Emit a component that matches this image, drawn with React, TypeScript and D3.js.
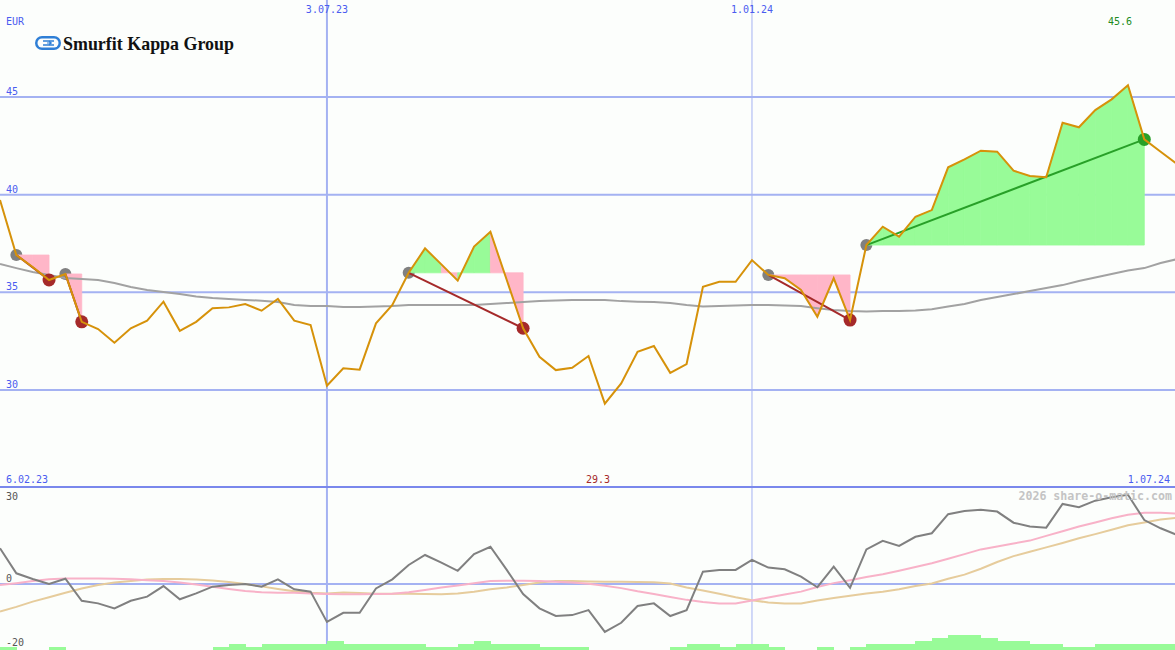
import React from 'react';
import * as d3 from 'd3';

const W = 1175;
const H = 650;

// weekly closing prices (EUR), index 0..72
const priceValues = [
  39.73, 36.91, 36.3, 35.63, 35.94, 33.49, 33.12, 32.42, 33.16, 33.55,
  34.52, 33.03, 33.49, 34.18, 34.23, 34.4, 34.06, 34.66, 33.55, 33.33,
  30.22, 31.11, 31.04, 33.41, 34.35, 36.0, 37.25, 36.43, 35.6, 37.34,
  38.1, 35.63, 33.16, 31.7, 31.02, 31.14, 31.74, 29.3, 30.34, 31.96,
  32.25, 30.88, 31.33, 35.29, 35.54, 35.54, 36.65, 35.89, 35.72, 35.12,
  33.75, 35.72, 33.58, 37.42, 38.36, 37.85, 38.87, 39.21, 41.4, 41.81,
  42.25, 42.2, 41.23, 40.96, 40.89, 43.68, 43.45, 44.33, 44.88, 45.6,
  42.83, 42.2, 41.57,
];

// long moving average of price
const priceMA = [
  36.45, 36.24, 36.04, 35.89, 35.73, 35.68, 35.63, 35.48, 35.27, 35.12,
  35.02, 34.91, 34.79, 34.71, 34.66, 34.61, 34.57, 34.5, 34.35, 34.3,
  34.3, 34.25, 34.25, 34.27, 34.3, 34.35, 34.35, 34.35, 34.35, 34.35,
  34.4, 34.45, 34.5, 34.55, 34.58, 34.61, 34.61, 34.61, 34.55, 34.52,
  34.5, 34.45, 34.35, 34.27, 34.3, 34.32, 34.35, 34.35, 34.32, 34.3,
  34.19, 34.09, 34.04, 34.02, 34.04, 34.04, 34.07, 34.14, 34.27, 34.4,
  34.61, 34.76, 34.91, 35.07, 35.22, 35.37, 35.58, 35.76, 35.94, 36.12,
  36.24, 36.5, 36.7,
];

// lower panel oscillator
const oscValues = [
  12.2, 3.65, 1.7, 0, 1.8, -5.7, -6.6, -8.3, -5.7, -4.3,
  -0.7, -5.2, -3.2, -0.9, -0.3, 0, -0.9, 1.6, -1.8, -2.6,
  -12.9, -9.8, -9.8, -1.5, 1.6, 6.5, 9.9, 7.3, 4.5, 10.2,
  12.7, 4.8, -3.4, -8.3, -10.9, -10.6, -8.9, -16.3, -13.2, -7.5,
  -6.6, -10.9, -8.9, 4.2, 4.8, 4.8, 8.2, 5.6, 5.0, 2.5,
  -1.1, 5.9, -1.3, 11.8, 14.7, 13.0, 16.1, 17.3, 23.8, 24.9,
  25.3, 24.7, 20.9, 19.6, 19.2, 27.3, 26.2, 28.4, 29.6, 30.4,
  21.8, 19.0, 16.7,
];

const oscFast = [
  -0.3, 0.3, 1.0, 1.6, 1.9, 1.9, 1.9, 1.8, 1.6, 1.3,
  1.0, 0.5, -0.2, -0.9, -1.7, -2.4, -2.8, -3.0, -3.0, -3.2,
  -3.4, -3.5, -3.5, -3.4, -3.3, -2.8, -2.0, -1.2, -0.5, 0.3,
  1.0, 1.1, 1.1, 1.0, 0.8, 0.5, 0.1, -0.6, -1.4, -2.5,
  -3.4, -4.4, -5.4, -6.1, -6.6, -6.6, -5.6, -4.6, -3.6, -2.6,
  -1.0, 0.3, 1.3, 2.4, 3.3, 4.5, 5.8, 7.1, 8.6, 10.2,
  11.8, 12.8, 13.8, 14.8, 16.4, 18.0, 19.6, 21.0, 22.4, 23.6,
  24.3, 24.3, 24.0,
];

const oscSlow = [
  -9.4, -7.8, -6.0, -4.5, -3.0, -1.5, -0.3, 0.5, 1.0, 1.5,
  1.7, 1.7, 1.5, 1.2, 0.7, 0.0, -0.8, -1.7, -2.5, -3.0,
  -3.2, -2.9, -3.1, -3.3, -3.3, -3.3, -3.4, -3.5, -3.2, -2.6,
  -1.8, -1.2, -0.3, 0.5, 1.0, 1.0, 0.9, 0.8, 0.8, 0.7,
  0.6, 0.2, -1.2, -2.2, -3.3, -4.5, -5.5, -6.3, -6.6, -6.6,
  -5.6, -4.8, -4.0, -3.2, -2.6, -1.8, -0.7, 0.2, 1.8, 3.2,
  5.2, 7.5, 9.5, 11.0, 12.5, 14.0, 15.6, 17.0, 18.5, 20.0,
  21.0, 22.0, 22.6,
];

const volumeValues = [
  1, 0, 0, 1, 0, 0, 0, 0, 0, 0,
  0, 0, 0, 1, 2, 1, 2, 2, 2, 2,
  3, 2, 2, 2, 2, 2, 1, 1, 2, 3,
  2, 2, 2, 1, 1, 1, 0, 0, 0, 0,
  0, 1, 2, 2, 1, 2, 2, 1, 0, 0,
  1, 0, 1, 2, 2, 2, 3, 4, 5, 5,
  4, 3, 3, 2, 2, 1, 1, 2, 2, 2,
  2, 2, 0,
];

const priceTicks = [45, 40, 35, 30];
const oscTicks = [30, 0, -20];
const dateMarks = [
  { i: 20, label: '3.07.23', w: 2 },
  { i: 46, label: '1.01.24', w: 1 },
];
const rangeStart = '6.02.23';
const rangeEnd = '1.07.24';
const trades = [
  { entry: 1, exit: 3 },
  { entry: 4, exit: 5 },
  { entry: 25, exit: 32 },
  { entry: 47, exit: 52 },
  { entry: 53, exit: 70 },
];

const GRID = '#a4b2f2';
const BLUE_TXT = '#4a5cf0';
const MONO = '"DejaVu Sans Mono", monospace';

export default function App() {
  const x = d3.scaleLinear().domain([0, 72]).range([0, 1177]);
  const yP = d3.scaleLinear().domain([30, 45]).range([390, 97]);
  const yO = d3.scaleLinear().domain([-20, 30]).range([642.7, 496]);

  const priceLine = d3.line<number>().x((_, i) => x(i)).y((d) => yP(d));
  const oscLine = d3.line<number>().x((_, i) => x(i)).y((d) => yO(d));

  const maxI = d3.maxIndex(priceValues);
  const minI = d3.minIndex(priceValues);

  const fills: { d: string; c: string }[] = [];
  trades.forEach((t) => {
    const lvl = priceValues[t.entry];
    for (let k = t.entry; k < t.exit; k++) {
      const p = d3.path();
      p.moveTo(x(k), yP(lvl));
      p.lineTo(x(k), yP(priceValues[k]));
      p.lineTo(x(k + 1), yP(priceValues[k + 1]));
      p.lineTo(x(k + 1), yP(lvl));
      p.closePath();
      fills.push({ d: p.toString(), c: priceValues[k + 1] >= lvl ? '#98fb98' : '#ffb6c8' });
    }
  });

  return (
    <>
      <style>{`body{margin:0}`}</style>
      <svg width={W} height={H} style={{ display: 'block', background: '#fcfefc' }}>
        <defs>
          <clipPath id="topClip"><rect x={0} y={0} width={W} height={486} /></clipPath>
          <clipPath id="botClip"><rect x={0} y={488} width={W} height={162} /></clipPath>
        </defs>
        <rect x={0} y={0} width={W} height={H} fill="#fcfefc" />

        {/* grid */}
        {priceTicks.map((t) => (
          <line key={'g' + t} x1={0} x2={W} y1={yP(t)} y2={yP(t)} stroke={GRID} strokeWidth={2} />
        ))}
        <line x1={0} x2={W} y1={yO(0)} y2={yO(0)} stroke={GRID} strokeWidth={2} />
        {dateMarks.map((m) => (
          <line key={m.label} x1={x(m.i)} x2={x(m.i)} y1={0} y2={H} stroke={GRID} strokeWidth={m.w} />
        ))}
        <line x1={0} x2={W} y1={487} y2={487} stroke="#7a88ec" strokeWidth={2} />

        {/* top panel */}
        <g clipPath="url(#topClip)">
          {trades.map((t) => (
            <circle key={'e' + t.entry} cx={x(t.entry)} cy={yP(priceValues[t.entry])} r={6} fill="#808080" />
          ))}
          {fills.map((f, i) => (
            <path key={'f' + i} d={f.d} fill={f.c} stroke={f.c} strokeWidth={0.8} strokeLinejoin="round" />
          ))}
          <path d={priceLine(priceMA) || ''} fill="none" stroke="#a2a2a2" strokeWidth={2} />
          {trades.map((t) => {
            const win = priceValues[t.exit] > priceValues[t.entry];
            const c = win ? '#28a028' : '#a52a2a';
            return (
              <g key={'t' + t.entry}>
                <circle cx={x(t.exit)} cy={yP(priceValues[t.exit])} r={6.5} fill={c} />
                <line x1={x(t.entry)} y1={yP(priceValues[t.entry])} x2={x(t.exit)} y2={yP(priceValues[t.exit])} stroke={c} strokeWidth={2} />
              </g>
            );
          })}
          <path d={priceLine(priceValues) || ''} fill="none" stroke="#d6920a" strokeWidth={2} strokeLinejoin="miter" />
        </g>

        {/* bottom panel */}
        <g clipPath="url(#botClip)">
          <path d={oscLine(oscSlow) || ''} fill="none" stroke="#e6cc9c" strokeWidth={2} />
          <path d={oscLine(oscFast) || ''} fill="none" stroke="#f8b2c8" strokeWidth={2} />
          <path d={oscLine(oscValues) || ''} fill="none" stroke="#808080" strokeWidth={2} />
          {volumeValues.map((v, i) =>
            v > 0 ? (
              <rect key={'v' + i} x={x(i)} y={H - v * 3} width={x(i + 1) - x(i) + 0.5} height={v * 3} fill="#98fb98" shapeRendering="crispEdges" />
            ) : null
          )}
        </g>

        {/* logo */}
        <g transform="translate(35,36)">
          <rect x={0} y={0} width={26} height={14} rx={7} fill="#2f7fd6" />
          <rect x={2.5} y={2.5} width={21} height={9} rx={4.5} fill="#fcfefc" />
          <line x1={8} x2={19} y1={5} y2={5} stroke="#2f7fd6" strokeWidth={1.5} />
          <line x1={8} x2={19} y1={9} y2={9} stroke="#2f7fd6" strokeWidth={1.5} />
          <path d="M12,7 L17,7 M14,5 L16,7 L14,9" stroke="#2f7fd6" strokeWidth={1.2} fill="none" />
        </g>
        <text x={63} y={49.5} fontFamily='"Liberation Serif", serif' fontSize={19.5} fontWeight="bold" fill="#111" textLength={171} lengthAdjust="spacingAndGlyphs">
          Smurfit Kappa Group
        </text>

        {/* labels */}
        <g fontFamily={MONO} fontSize={10}>
          <text x={6} y={25} fill={BLUE_TXT}>EUR</text>
          {priceTicks.map((t) => (
            <text key={'l' + t} x={6} y={yP(t) - 2} fill={BLUE_TXT}>{t}</text>
          ))}
          {dateMarks.map((m) => (
            <text key={'d' + m.label} x={x(m.i)} y={13} fill={BLUE_TXT} textAnchor="middle">{m.label}</text>
          ))}
          <text x={1120} y={25} fill="#228b22" textAnchor="middle">{priceValues[maxI].toFixed(1)}</text>
          <text x={6} y={483} fill={BLUE_TXT}>{rangeStart}</text>
          <text x={598} y={483} fill="#a52a2a" textAnchor="middle">{priceValues[minI].toFixed(1)}</text>
          <text x={1170} y={483} fill={BLUE_TXT} textAnchor="end">{rangeEnd}</text>
          {oscTicks.map((t) => (
            <text key={'o' + t} x={6} y={t === 30 ? 499.5 : t === 0 ? 582 : 646} fill="#555">{t}</text>
          ))}
        </g>
        <text x={1172} y={499.5} fontFamily={MONO} fontSize={11.6} fontWeight="bold" fill="#c4c4c4" textAnchor="end">
          2026 share-o-matic.com
        </text>
      </svg>
    </>
  );
}
